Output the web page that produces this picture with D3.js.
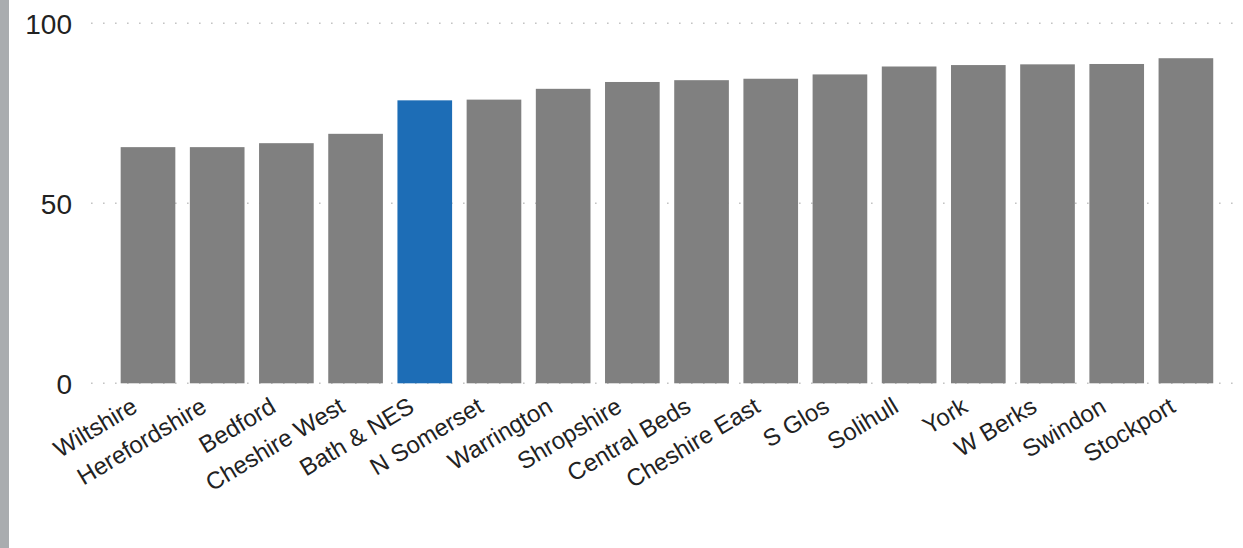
<!DOCTYPE html>
<html>
<head>
<meta charset="utf-8">
<script src="https://cdn.jsdelivr.net/npm/d3@7"></script>
<style>
  html, body { margin: 0; padding: 0; background: #fff; }
  svg { display: block; }
  .tick-label { font-family: "Liberation Sans", Arial, sans-serif; fill: #222; }
</style>
</head>
<body>
<svg id="chart" width="1243" height="548"></svg>
<script>
// Areas, ordered from lowest to highest score
const categories = ["Wiltshire", "Herefordshire", "Bedford", "Cheshire West", "Bath & NES",
  "N Somerset", "Warrington", "Shropshire", "Central Beds", "Cheshire East", "S Glos",
  "Solihull", "York", "W Berks", "Swindon", "Stockport"];
const values = [65.6, 65.6, 66.7, 69.3, 78.6, 78.8, 81.8, 83.7, 84.2, 84.6, 85.8,
  88.0, 88.4, 88.6, 88.7, 90.3];
const highlighted = ["Bath & NES"];
const yTicks = [0, 50, 100];

const svg = d3.select("#chart");
const W = 1243, H = 548;

// Grey strip down the left edge
svg.append("rect").attr("x", 0).attr("y", 0).attr("width", 9).attr("height", H)
  .attr("fill", "#a9acaf");

const x = d3.scaleBand().domain(categories).range([113.4, 1220.5])
  .paddingInner(0.21).paddingOuter(0.105);
const y = d3.scaleLinear().domain([0, 100]).range([383.3, 23.3]);

// Dotted gridlines
const grid = svg.append("g");
grid.selectAll("line").data(yTicks).join("line")
  .attr("x1", 91).attr("x2", W)
  .attr("y1", d => y(d)).attr("y2", d => y(d))
  .attr("stroke", "#c4c4c4").attr("stroke-width", 1.6)
  .attr("stroke-dasharray", "1.6,10.4");

// Y axis labels
const yAxis = d3.axisLeft(y).tickValues(yTicks).tickSize(0).tickPadding(0);
const ya = svg.append("g").attr("transform", "translate(72,0)").call(yAxis);
ya.select(".domain").remove();
ya.selectAll("text").attr("class", "tick-label").attr("font-size", 28)
  .attr("dy", "0.35em");

// Bars
svg.append("g").selectAll("rect").data(categories).join("rect")
  .attr("x", d => x(d))
  .attr("width", x.bandwidth())
  .attr("y", (d, i) => y(values[i]))
  .attr("height", (d, i) => y(0) - y(values[i]))
  .attr("fill", d => highlighted.includes(d) ? "#1d6db6" : "#808080");

// Category labels, rotated
const xAxis = d3.axisBottom(x).tickSize(0).tickPadding(0);
const xa = svg.append("g").attr("transform", `translate(0,${y(0)})`).call(xAxis);
xa.select(".domain").remove();
xa.selectAll("text")
  .attr("class", "tick-label")
  .attr("font-size", 24)
  .attr("text-anchor", "end")
  .attr("y", 0).attr("dy", 0)
  .attr("transform", "translate(-9,27.5) rotate(-31)");
</script>
</body>
</html>
